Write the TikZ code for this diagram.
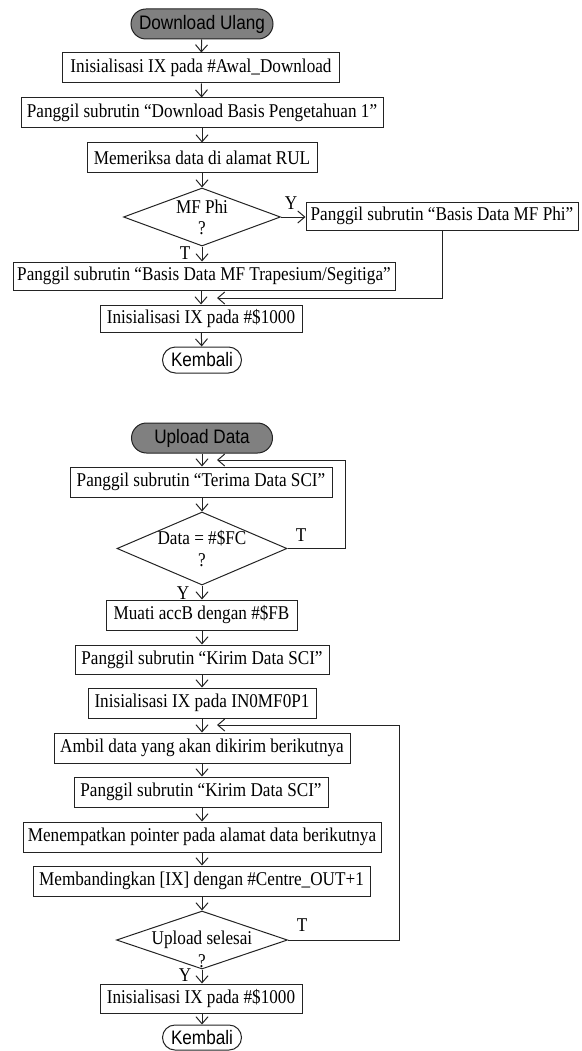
\documentclass[tikz,border=0pt]{standalone}
\usepackage{fontspec}
\setmainfont{Liberation Serif}[FakeStretch=0.88]
\newfontfamily\termfont{Liberation Sans}[FakeStretch=0.88]
\usetikzlibrary{arrows.meta,shapes.geometric}
\definecolor{startgray}{RGB}{128,128,128}
\definecolor{linegray}{RGB}{35,35,35}
\tikzset{
  flow/.style={draw=linegray, line width=1pt},
  txt/.style={font=\fontsize{19.5}{21}\selectfont},
  procbox/.style={flow, txt, rectangle, inner sep=0pt, minimum height=30pt},
  term/.style={flow, rectangle, inner sep=0pt, minimum height=30pt, rounded corners=15pt,
               font=\termfont\fontsize{19.5}{21}\selectfont},
  startterm/.style={term, fill=startgray},
  endterm/.style={term, fill=white, minimum height=26pt, rounded corners=13pt},
  decision/.style={flow, diamond, inner sep=0pt},
  lbl/.style={txt, inner sep=0pt},
  arr/.style={flow, -{Straight Barb[length=7pt,width=12pt]}},
}
\begin{document}
\begin{tikzpicture}[x=1pt,y=-1pt]
\useasboundingbox (0,0) rectangle (581,1051);

% ---------- Download Ulang ----------
\node[startterm, minimum width=142pt] (dl) at (202,24) {Download Ulang};
\node[procbox, minimum width=277pt] (b1) at (201,68) {Inisialisasi IX pada \#Awal\_Download};
\node[procbox, minimum width=362pt] (b2) at (202,113) {Panggil subrutin “Download Basis Pengetahuan 1”};
\node[procbox, minimum width=230pt] (b3) at (202,158) {Memeriksa data di alamat RUL};
\node[decision, minimum width=157pt, minimum height=58pt] (d1) at (202,217) {};
\node[lbl] (d1a) at (202,207) {MF Phi};
\node[lbl] (d1b) at (202,228) {?};
\node[procbox, minimum width=272pt, minimum height=28pt] (phi) at (442,216) {Panggil subrutin “Basis Data MF Phi”};
\node[procbox, minimum width=382pt, minimum height=28pt] (trap) at (204,276) {Panggil subrutin “Basis Data MF Trapesium/Segitiga”};
\node[procbox, minimum width=202pt, minimum height=27pt] (b4) at (201,318.5) {Inisialisasi IX pada \#\$1000};
\node[endterm, minimum width=79pt] (kb1) at (202,360) {Kembali};
\coordinate (j1) at (217,298);

\node[lbl] (y1) at (291,203) {Y};
\node[lbl] (t1) at (185,253) {T};

\draw[arr] (dl) -- (b1);
\draw[arr] (b1) -- (b2);
\draw[arr] (b2) -- (b3);
\draw[arr] (b3) -- (d1);
\draw[arr] (d1.east) -- (d1.east -| phi.west);
\draw[arr] (d1.south) -- (d1.south |- trap.north);
\draw[arr] (trap.south -| b4.north) -- (b4.north);
\draw[arr] (phi.south) |- (j1);
\draw[arr] (b4) -- (kb1);

% ---------- Upload Data ----------
\node[startterm, minimum width=141pt] (ud) at (202,438) {Upload Data};
\node[procbox, minimum width=262pt] (terima) at (201,482) {Panggil subrutin “Terima Data SCI”};
\node[decision, minimum width=170pt, minimum height=73pt] (d2) at (202,548.5) {};
\node[lbl] (d2a) at (202,538) {Data = \#\$FC};
\node[lbl] (d2b) at (202,560) {?};
\node[procbox, minimum width=191pt] (muati) at (201.5,615) {Muati accB dengan \#\$FB};
\node[procbox, minimum width=254pt, minimum height=29pt] (kirim) at (202,659.5) {Panggil subrutin “Kirim Data SCI”};
\node[procbox, minimum width=228pt] (in0) at (202,703) {Inisialisasi IX pada IN0MF0P1};
\node[procbox, minimum width=296pt] (ambil) at (202,748) {Ambil data yang akan dikirim berikutnya};
\node[procbox, minimum width=254pt] (kirim2) at (201,792) {Panggil subrutin “Kirim Data SCI”};
\node[procbox, minimum width=358pt] (menem) at (202,837) {Menempatkan pointer pada alamat data berikutnya};
\node[procbox, minimum width=337pt] (memb) at (201.5,881) {Membandingkan [IX] dengan \#Centre\_OUT+1};
\node[decision, minimum width=171pt, minimum height=58pt] (d3) at (202,940) {};
\node[lbl] (d3a) at (202,940) {Upload selesai};
\node[lbl] (d3b) at (202,961) {?};
\node[procbox, minimum width=202pt, minimum height=29pt] (b5) at (201,998.5) {Inisialisasi IX pada \#\$1000};
\node[endterm, minimum width=79pt, minimum height=25pt, rounded corners=12.5pt] (kb2) at (202,1037.5) {Kembali};

\coordinate (c2) at (345,460);
\coordinate (j2) at (217,460);
\coordinate (c3) at (399,725);
\coordinate (j3) at (217,725);

\node[lbl] (t2) at (301,535) {T};
\node[lbl] (y2) at (183,593) {Y};
\node[lbl] (t3) at (302,925) {T};
\node[lbl] (y3) at (185,975) {Y};

\draw[arr] (ud.south) -- (ud.south |- terima.north);
\draw[arr] (terima.south -| d2.north) -- (d2.north);
\draw[arr] (d2.east) -| (c2) -- (j2);
\draw[arr] (d2.south) -- (d2.south |- muati.north);
\draw[arr] (muati.south -| kirim.north) -- (kirim.north);
\draw[arr] (kirim) -- (in0);
\draw[arr] (in0) -- (ambil);
\draw[arr] (d3.east) -| (c3) -- (j3);
\draw[arr] (ambil.south) -- (ambil.south |- kirim2.north);
\draw[arr] (kirim2.south -| menem.north) -- (menem.north);
\draw[arr] (menem.south) -- (menem.south |- memb.north);
\draw[arr] (memb.south -| d3.north) -- (d3.north);
\draw[arr] (d3.south) -- (d3.south |- b5.north);
\draw[arr] (b5.south -| kb2.north) -- (kb2.north);
\end{tikzpicture}
\end{document}
